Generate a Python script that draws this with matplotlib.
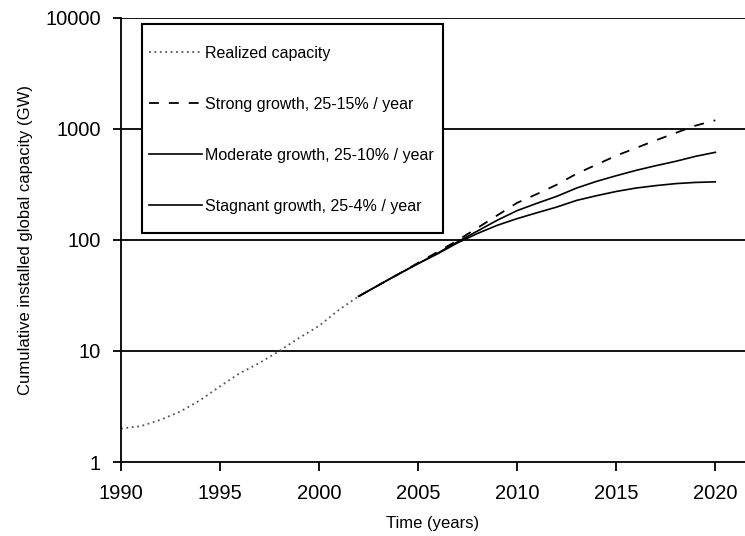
import numpy as np
import matplotlib
matplotlib.use("Agg")
import matplotlib.pyplot as plt
from matplotlib.patches import Rectangle
from matplotlib.ticker import FixedLocator, FixedFormatter, NullLocator

plt.rcParams["font.family"] = ["Liberation Sans", "DejaVu Sans"]

# --- data (GW) ---
realized_years = [1990, 1991, 1992, 1993, 1994, 1995, 1996, 1997, 1998,
                  1999, 2000, 2001, 2002]
realized_gw = [2.0, 2.1, 2.4, 2.85, 3.6, 4.8, 6.3, 7.8, 10.0,
               13.1, 16.8, 23.4, 31.0]

proj_years = [2002, 2003, 2004, 2005, 2006, 2007, 2008, 2009, 2010, 2011,
              2012, 2013, 2014, 2015, 2016, 2017, 2018, 2019, 2020]
strong_gw = [31, 39, 49, 62, 78, 99, 128, 166, 215, 258,
             313, 393, 474, 571, 670, 785, 915, 1064, 1188]
moderate_gw = [31, 39, 49, 61, 76, 96, 120, 150, 183, 213,
               246, 292, 335, 377, 421, 464, 508, 563, 612]
stagnant_gw = [31, 39, 49, 61, 75, 94, 114, 135, 155, 175,
               197, 226, 249, 272, 292, 307, 320, 328, 332]

labels = ["Realized capacity",
          "Strong growth, 25-15% / year",
          "Moderate growth, 25-10% / year",
          "Stagnant growth, 25-4% / year"]

y_ticks = [1, 10, 100, 1000, 10000]
x_ticks = [1990, 1995, 2000, 2005, 2010, 2015, 2020]

# --- figure ---
fig = plt.figure(figsize=(7.45, 5.36), dpi=100)
ax = fig.add_axes([121 / 745, 1 - 462 / 536, 624 / 745, 444.5 / 536])

ax.plot(realized_years, realized_gw, color="#555555", lw=1.3,
        linestyle=(0, (1, 2)), label=labels[0])
ax.plot(proj_years, strong_gw, color="black", lw=1.3,
        linestyle=(0, (5.5, 5.5)), label=labels[1])
ax.plot(proj_years, moderate_gw, color="black", lw=1.2, label=labels[2])
ax.plot(proj_years, stagnant_gw, color="black", lw=1.2, label=labels[3])

ax.set_yscale("log")
ax.set_ylim(1, 10000)
ax.set_xlim(1990, 2021.5)
ax.yaxis.set_major_locator(FixedLocator(y_ticks))
ax.yaxis.set_major_formatter(FixedFormatter([str(v) for v in y_ticks]))
ax.yaxis.set_minor_locator(NullLocator())
ax.set_xticks(x_ticks)
ax.set_xticklabels([str(v) for v in x_ticks])

for v in y_ticks[1:]:
    ax.axhline(v, color="black", lw=1.3, zorder=1)

for side in ("top", "right"):
    ax.spines[side].set_visible(False)
for side in ("left", "bottom"):
    ax.spines[side].set_linewidth(1.3)

ax.tick_params(axis="both", direction="out", width=1.3, labelsize=14.5)
ax.tick_params(axis="x", length=6.5, pad=9)
ax.tick_params(axis="y", length=5.5, pad=9)

ax.set_xlabel("Time (years)", fontsize=12, labelpad=10)
ax.set_ylabel("Cumulative installed global capacity (GW)", fontsize=12,
              labelpad=9)

# legend box drawn separately so the inner padding can differ per side
ax.add_patch(Rectangle((21 / 624, 229 / 444.5), 301 / 624, 209 / 444.5,
                       transform=ax.transAxes, facecolor="white",
                       edgecolor="black", lw=1.5, zorder=4))
leg = ax.legend(loc="upper left", bbox_to_anchor=(28 / 624, 416 / 444.5),
                borderaxespad=0, borderpad=0, fontsize=11.5,
                handlelength=3.3, handletextpad=0.2, labelspacing=2.25,
                frameon=False)
leg.set_zorder(5)

fig.savefig("out.png", dpi=100)
